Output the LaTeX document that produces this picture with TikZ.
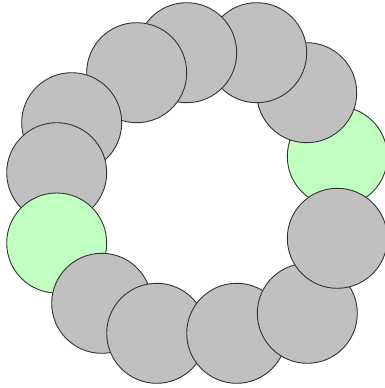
\documentclass[tikz,border=0pt]{standalone}
\definecolor{ballgray}{HTML}{C0C0C0}
\definecolor{ballgreen}{HTML}{C0FFC0}
\definecolor{edgecol}{HTML}{333333}
\begin{document}
\begin{tikzpicture}[x=1pt,y=-1pt,
  ball/.style={circle,draw=edgecol,line width=0.9pt,fill=ballgray,minimum size=100pt,inner sep=0pt},
  gball/.style={ball,fill=ballgreen}]
\useasboundingbox (0,0) rectangle (384,388);
\node[gball] (gr) at (337.3,156.5) {};
\node[ball] (d) at (306.7,92.7) {};
\node[ball] (c) at (256.7,52.7) {};
\node[ball] (b) at (186.7,52.7) {};
\node[ball] (a) at (136.7,72.7) {};
\node[ball] (i) at (71.7,122.7) {};
\node[ball] (j) at (56.7,172.7) {};
\node[gball] (gl) at (56.7,243) {};
\node[ball] (k) at (101.7,303.3) {};
\node[ball] (l) at (156.7,333.3) {};
\node[ball] (g) at (236.7,333.3) {};
\node[ball] (f) at (307.3,313.3) {};
\node[ball] (e) at (337.3,238.3) {};
\end{tikzpicture}
\end{document}
